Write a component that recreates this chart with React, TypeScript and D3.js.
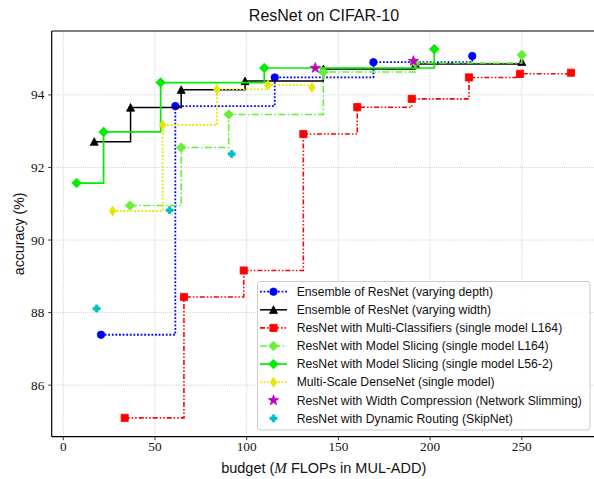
import React from "react";
import * as d3 from "d3";

const depthX = [20.6, 61.1, 115.3, 169.1, 223];
const depthY = [87.39, 93.69, 94.48, 94.9, 95.07];
const widthX = [16.9, 36.7, 64.3, 99.1, 141.8, 192, 250];
const widthY = [92.71, 93.65, 94.14, 94.38, 94.71, 94.85, 94.91];
const multiX = [33.5, 65.8, 98.4, 130.9, 160.3, 190, 221.2, 249, 276.8];
const multiY = [85.1, 88.43, 89.16, 92.92, 93.66, 93.89, 94.48, 94.58, 94.61];
const sliceL164X = [36.4, 64.3, 90.2, 141.8, 192, 250];
const sliceL164Y = [90.95, 92.55, 93.46, 94.63, 94.88, 95.1];
const sliceL56X = [7.3, 22, 53.1, 109.6, 202.3];
const sliceL56Y = [91.57, 92.98, 94.34, 94.74, 95.26];
const msdX = [26.9, 54.2, 83.8, 111.6, 135.6];
const msdY = [90.8, 93.17, 94.15, 94.27, 94.2];
const slimX = [137.4, 190.9];
const slimY = [94.74, 94.93];
const skipX = [18.2, 58, 91.8];
const skipY = [88.11, 90.82, 92.37];

const xTicks = [0, 50, 100, 150, 200, 250];
const yTicks = [86, 88, 90, 92, 94];

type Series = {
  label: string;
  xs: number[];
  ys: number[];
  color: string;
  dash: string | null;
  line: boolean;
  marker: string;
  lw: number;
};

const series: Series[] = [
  { label: "Ensemble of ResNet (varying depth)", xs: depthX, ys: depthY, color: "#0000ff", dash: "1.8,1.8", line: true, marker: "circle", lw: 1.8 },
  { label: "Ensemble of ResNet (varying width)", xs: widthX, ys: widthY, color: "#000000", dash: null, line: true, marker: "triangle", lw: 1.5 },
  { label: "ResNet with Multi-Classifiers (single model L164)", xs: multiX, ys: multiY, color: "#ff0000", dash: "5,2,1.5,2,1.5,2", line: true, marker: "square", lw: 1.6 },
  { label: "ResNet with Model Slicing (single model L164)", xs: sliceL164X, ys: sliceL164Y, color: "#66f032", dash: "7,2.4,1.5,2.4", line: true, marker: "diamond", lw: 1.6 },
  { label: "ResNet with Model Slicing (single model L56-2)", xs: sliceL56X, ys: sliceL56Y, color: "#00ee00", dash: null, line: true, marker: "diamond", lw: 1.7 },
  { label: "Multi-Scale DenseNet (single model)", xs: msdX, ys: msdY, color: "#e6e600", dash: "1.8,1.8", line: true, marker: "thindiamond", lw: 1.8 },
  { label: "ResNet with Width Compression (Network Slimming)", xs: slimX, ys: slimY, color: "#bf00bf", dash: null, line: false, marker: "star", lw: 1.5 },
  { label: "ResNet with Dynamic Routing (SkipNet)", xs: skipX, ys: skipY, color: "#00bfbf", dash: null, line: false, marker: "plus", lw: 1.5 },
];

const W = 594;
const H = 479;
const L = 51.7;
const R = 597;
const T = 31;
const B = 436.7;

const xScale = d3.scaleLinear().domain([-6.3, 291]).range([L, R]);
const yScale = d3.scaleLinear().domain([84.58, 95.76]).range([B, T]);

function markerPath(kind: string): string {
  switch (kind) {
    case "circle":
      return d3.symbol(d3.symbolCircle, 44)()!;
    case "triangle": {
      const s = 4;
      return `M0,${-s}L${s},${s * 0.9}L${-s},${s * 0.9}Z`;
    }
    case "square":
      return "M-3.6,-3.6H3.6V3.6H-3.6Z";
    case "diamond":
      return "M0,-4.8L4.8,0L0,4.8L-4.8,0Z";
    case "thindiamond":
      return "M0,-5L3.2,0L0,5L-3.2,0Z";
    case "star":
      return d3.symbol(d3.symbolStar, 34)()!;
    case "plus": {
      const a = 1.3, b = 3.5;
      return `M${-a},${-b}H${a}V${-a}H${b}V${a}H${a}V${b}H${-a}V${a}H${-b}V${-a}H${-a}Z`;
    }
  }
  return "";
}

export default function App() {
  const lineGen = d3
    .line<[number, number]>()
    .x((d) => xScale(d[0]))
    .y((d) => yScale(d[1]))
    .curve(d3.curveStepAfter);

  const legendX = 257.5;
  const legendY = 281.5;
  const legendW = 332.5;
  const legendH = 148.5;
  const rowY0 = 291.7;
  const rowDy = 18.1;

  const sans = "'Liberation Sans', Arial, sans-serif";
  const serif = "'Liberation Serif', 'Times New Roman', serif";

  return (
    <svg width={W} height={H} style={{ position: "absolute", left: 0, top: 0, background: "#fff" }}>
      <defs>
        <clipPath id="plotclip">
          <rect x={L} y={T} width={R - L} height={B - T} />
        </clipPath>
      </defs>
      <rect x={0} y={0} width={W} height={H} fill="#fff" />
      {/* grid */}
      <g stroke="#b8b8b8" strokeWidth={0.8} strokeDasharray="0.8,1.3">
        {xTicks.map((t) => (
          <line key={"gx" + t} x1={xScale(t)} x2={xScale(t)} y1={T} y2={B} />
        ))}
        {yTicks.map((t) => (
          <line key={"gy" + t} x1={L} x2={R} y1={yScale(t)} y2={yScale(t)} />
        ))}
      </g>
      {/* series */}
      <g clipPath="url(#plotclip)">
        {series.map((s, i) => {
          const pts: [number, number][] = s.xs.map((x, j) => [x, s.ys[j]]);
          return (
            <g key={"s" + i}>
              {s.line && (
                <path
                  d={lineGen(pts)!}
                  fill="none"
                  stroke={s.color}
                  strokeWidth={s.lw}
                  strokeDasharray={s.dash ?? undefined}
                />
              )}
              {pts.map((p, j) => (
                <path
                  key={j}
                  d={markerPath(s.marker)}
                  transform={`translate(${xScale(p[0])},${yScale(p[1])})`}
                  fill={s.color}
                  stroke={s.color}
                  strokeWidth={0.8}
                />
              ))}
            </g>
          );
        })}
      </g>
      {/* spines */}
      <g stroke="#000" strokeWidth={1.2} fill="none">
        <line x1={L} x2={L} y1={T} y2={B} />
        <line x1={L} x2={R} y1={B} y2={B} />
        <line x1={L} x2={R} y1={T} y2={T} />
        <line x1={R} x2={R} y1={T} y2={B} />
      </g>
      {/* ticks */}
      <g stroke="#000" strokeWidth={0.8}>
        {xTicks.map((t) => (
          <line key={"tx" + t} x1={xScale(t)} x2={xScale(t)} y1={B} y2={B + 3.5} />
        ))}
        {yTicks.map((t) => (
          <line key={"ty" + t} x1={L - 3.5} x2={L} y1={yScale(t)} y2={yScale(t)} />
        ))}
      </g>
      <g fontFamily={serif} fontSize={13.3} fill="#111">
        {xTicks.map((t) => (
          <text key={"lx" + t} x={xScale(t)} y={451.3} textAnchor="middle">
            {t}
          </text>
        ))}
        {yTicks.map((t) => (
          <text key={"ly" + t} x={44.3} y={yScale(t) + 4.6} textAnchor="end">
            {t}
          </text>
        ))}
      </g>
      {/* title & labels */}
      <text x={324} y={20.5} textAnchor="middle" fontFamily={sans} fontSize={16} fill="#111">
        ResNet on CIFAR-10
      </text>
      <text x={323.7} y={473} textAnchor="middle" fontFamily={sans} fontSize={14.5} fill="#111">
        budget (
        <tspan fontFamily={serif} fontStyle="italic" fontSize={15}>M</tspan> FLOPs in MUL-ADD)
      </text>
      <text
        transform={`translate(24.3,${(T + B) / 2}) rotate(-90)`}
        textAnchor="middle"
        fontFamily={sans}
        fontSize={14.2}
        fill="#111"
      >
        accuracy (%)
      </text>
      {/* legend */}
      <rect
        x={legendX}
        y={legendY}
        width={legendW}
        height={legendH}
        rx={3}
        fill="#fff"
        fillOpacity={0.8}
        stroke="#cccccc"
        strokeWidth={1}
      />
      {series.map((s, i) => {
        const y = rowY0 + i * rowDy;
        return (
          <g key={"lg" + i}>
            {s.line && (
              <line
                x1={260}
                x2={287}
                y1={y}
                y2={y}
                stroke={s.color}
                strokeWidth={s.lw}
                strokeDasharray={s.dash ?? undefined}
              />
            )}
            <path
              d={markerPath(s.marker)}
              transform={`translate(273.5,${y})`}
              fill={s.color}
              stroke={s.color}
              strokeWidth={0.8}
            />
            <text x={296.7} y={y + 4.2} fontFamily={sans} fontSize={12.2} fill="#111">
              {s.label}
            </text>
          </g>
        );
      })}
    </svg>
  );
}
